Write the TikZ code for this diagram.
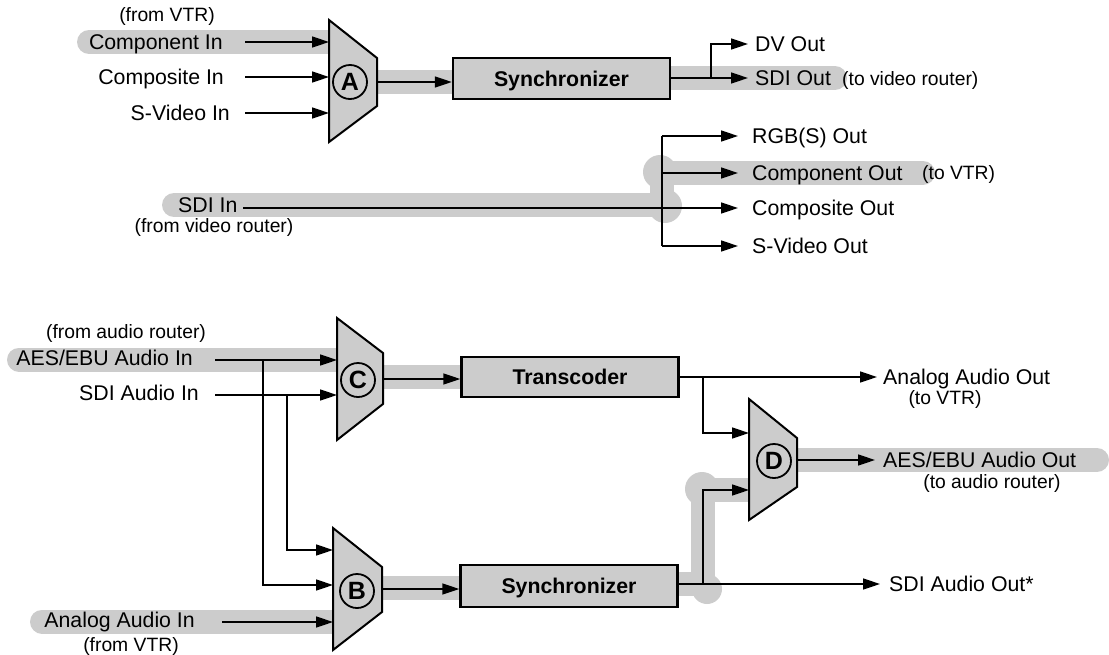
\documentclass[tikz,border=0pt]{standalone}
\usepackage{fontspec}
\setmainfont{Liberation Sans}
\usepackage{xcolor}
\usepackage{tikz}
\usetikzlibrary{arrows.meta}
\definecolor{bandgray}{gray}{0.8}
\tikzset{>={Triangle[length=17pt,width=11pt]}}
\tikzset{
  sig/.style={line width=1.6pt},
  band/.style={draw=bandgray, line width=24pt, line cap=round, line join=round},
  blob/.style={fill=bandgray},
  procbox/.style={draw, line width=2.4pt, fill=bandgray, minimum width=217pt, minimum height=41pt,
    text height=15.2pt, text depth=0pt, font=\fontsize{21.3}{25}\bfseries},
  muxbody/.style={draw, line width=2pt, fill=bandgray},
  muxletter/.style={draw, circle, line width=1.8pt, inner sep=0pt, minimum size=34pt,
    font=\fontsize{25}{29}\bfseries},
  lbl/.style={inner sep=0pt, text height=15.2pt, text depth=0pt, font=\fontsize{21.3}{25}\selectfont},
  note/.style={inner sep=0pt, text height=13.8pt, text depth=0pt, font=\fontsize{19.3}{23}\selectfont}
}
\begin{document}
\begin{tikzpicture}[x=1pt, y=-1pt]
    \useasboundingbox (0,0) rectangle (1109,654);
    % ports and branch points
    \coordinate (cin)    at (245,42);
    \coordinate (xin)    at (245,77);
    \coordinate (sin)    at (245,113);
    \coordinate (a1)     at (329,42);
    \coordinate (a2)     at (329,77);
    \coordinate (a3)     at (329,113);
    \coordinate (aout)   at (377,82);
    \coordinate (vsplit) at (711,78);
    \coordinate (dvout)  at (748,44);
    \coordinate (sdiout) at (748,78);
    \coordinate (sdiin)  at (243,208);
    \coordinate (bustop) at (662,136);
    \coordinate (busbot) at (662,246);
    \coordinate (o1)     at (738,136);
    \coordinate (o2)     at (738,173);
    \coordinate (o3)     at (738,208);
    \coordinate (o4)     at (738,246);
    \coordinate (aesin)  at (215,360);
    \coordinate (sdiain) at (215,395);
    \coordinate (c1)     at (337,360);
    \coordinate (c2)     at (337,395);
    \coordinate (tap1)   at (263,360);
    \coordinate (tap2)   at (287,395);
    \coordinate (b1)     at (333,550);
    \coordinate (b2)     at (333,585);
    \coordinate (anain)  at (222,622);
    \coordinate (b3)     at (333,622);
    \coordinate (cout)   at (383,379);
    \coordinate (bout)   at (382,589);
    \coordinate (tsplit) at (703,377);
    \coordinate (anaout) at (877,377);
    \coordinate (d1)     at (749,433);
    \coordinate (d2)     at (749,490);
    \coordinate (dout)   at (797,460);
    \coordinate (aesout) at (875,460);
    \coordinate (ssplit) at (703,584);
    \coordinate (sdiaout) at (880,584);

    % grey paths
    \draw[band] (89,42) -- (340,42);
    \draw[band] (370,81.5) -- (460,81.5);
    \draw[band] (660,78) -- (835,78);
    \draw[band] (174,205) -- (662,205) -- (662,173) -- (923,173);
    \fill[blob] (660,172) circle (17);
    \fill[blob] (665,206) circle (17);
    \draw[band] (19,359.5) -- (340,359.5);
    \draw[band] (375,377) -- (465,377);
    \draw[band] (42,621.5) -- (340,621.5);
    \draw[band] (375,587.5) -- (465,587.5);
    \draw[band] (670,584) -- (703,584) -- (703,490) -- (752,490);
    \fill[blob] (702,489) circle (17);
    \fill[blob] (707,589) circle (15);
    \draw[band] (795,460) -- (1097,460);

    % muxes
    \draw[muxbody] (329,20) -- (377,58) -- (377,106) -- (329,142) -- cycle;
    \node[muxletter] (muxA) at (350,82) {A};
    \draw[muxbody] (337,318) -- (383,353) -- (383,404) -- (337,440) -- cycle;
    \node[muxletter] (muxC) at (358,380) {C};
    \draw[muxbody] (333,528) -- (382,567) -- (382,612) -- (333,650) -- cycle;
    \node[muxletter] (muxB) at (357,591) {B};
    \draw[muxbody] (749,399) -- (797,438) -- (797,487) -- (749,520) -- cycle;
    \node[muxletter] (muxD) at (774,461) {D};

    % boxes
    \node[procbox] (syncV) at (561.5,78.5) {Synchronizer};
    \node[procbox, minimum height=40pt] (transc) at (570,377) {Transcoder};
    \node[procbox, minimum height=42pt] (syncA) at (569,586) {Synchronizer};

    % video
    \draw[sig,->] (cin) -- (a1);
    \draw[sig,->] (xin) -- (a2);
    \draw[sig,->] (sin) -- (a3);
    \draw[sig,->] (aout) -- (aout -| syncV.west);
    \draw[sig] (syncV.east |- vsplit) -- (vsplit);
    \draw[sig,->] (vsplit) -- (sdiout);
    \draw[sig,->] (vsplit) |- (dvout);
    \draw[sig,->] (sdiin) -- (o3);
    \draw[sig] (bustop) -- (busbot);
    \draw[sig,->] (bustop) -- (o1);
    \draw[sig,->] (bustop |- o2) -- (o2);
    \draw[sig,->] (busbot) -- (o4);

    % audio
    \draw[sig,->] (aesin) -- (c1);
    \draw[sig,->] (sdiain) -- (c2);
    \draw[sig,->] (tap1) |- (b2);
    \draw[sig,->] (tap2) |- (b1);
    \draw[sig,->] (anain) -- (b3);
    \draw[sig,->] (cout) -- (cout -| transc.west);
    \draw[sig,->] (bout) -- (bout -| syncA.west);
    \draw[sig] (transc.east |- tsplit) -- (tsplit);
    \draw[sig,->] (tsplit) -- (anaout);
    \draw[sig,->] (tsplit) |- (d1);
    \draw[sig,->] (dout) -- (aesout);
    \draw[sig] (syncA.east |- ssplit) -- (ssplit);
    \draw[sig,->] (ssplit) -- (sdiaout);
    \draw[sig,->] (ssplit) |- (d2);

    % labels
    \node[note] (nFromVTR) at (167,15) {(from VTR)};
    \node[lbl, anchor=east] (lCompIn) at (223,42) {Component In};
    \node[lbl, anchor=east] (lCompoIn) at (224,77) {Composite In};
    \node[lbl, anchor=east] (lSVidIn) at (230,113) {S-Video In};
    \node[lbl, anchor=west] (lDV) at (755,44) {DV Out};
    \node[lbl, anchor=west] (lSDIOut) at (755,78) {SDI Out};
    \node[note, anchor=west] (nToRouter) at (842,79) {(to video router)};
    \node[lbl, anchor=west] (lSDIIn) at (178,205) {SDI In};
    \node[note] (nFromRouter) at (214,226) {(from video router)};
    \node[lbl, anchor=west] (lRGB) at (752,136) {RGB(S) Out};
    \node[lbl, anchor=west] (lCompOut) at (752,173) {Component Out};
    \node[note, anchor=west] (nToVTR) at (922,173) {(to VTR)};
    \node[lbl, anchor=west] (lCompoOut) at (752,208) {Composite Out};
    \node[lbl, anchor=west] (lSVidOut) at (752,246) {S-Video Out};
    \node[note] (nFromAudio) at (126,332) {(from audio router)};
    \node[lbl, anchor=east] (lAESIn) at (193,358) {AES/EBU Audio In};
    \node[lbl, anchor=east] (lSDIAIn) at (199,393) {SDI Audio In};
    \node[lbl, anchor=east] (lAnaIn) at (195,620) {Analog Audio In};
    \node[note] (nFromVTRb) at (131,645) {(from VTR)};
    \node[lbl, anchor=west] (lAnaOut) at (883,377) {Analog Audio Out};
    \node[note] (nToVTRb) at (945,398) {(to VTR)};
    \node[lbl, anchor=west] (lAESOut) at (883,460) {AES/EBU Audio Out};
    \node[note] (nToAudio) at (992,482) {(to audio router)};
    \node[lbl, anchor=west] (lSDIAOut) at (889,584) {SDI Audio Out*};
  \end{tikzpicture}
\end{document}
